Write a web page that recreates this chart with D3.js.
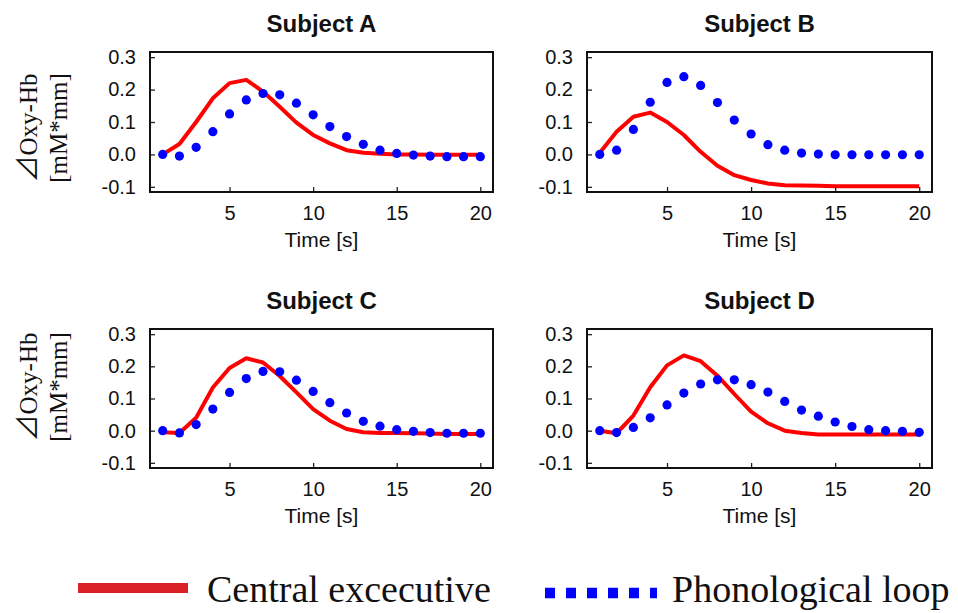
<!DOCTYPE html>
<html>
<head>
<meta charset="utf-8">
<script src="https://cdn.jsdelivr.net/npm/d3@7"></script>
<style>
  body { margin: 0; background: #fff; }
  svg { display: block; }
</style>
</head>
<body>
<svg id="chart"></svg>
<script>
// time points (s)
var time = [1,2,3,4,5,6,7,8,9,10,11,12,13,14,15,16,17,18,19,20];

// central executive (red line) per subject
var ceA = [0.0,0.032,0.10,0.173,0.22,0.23,0.194,0.147,0.098,0.06,0.034,0.013,0.005,0.002,0.0,0.0,-0.001,-0.001,-0.001,-0.001];
var ceB = [0.005,0.07,0.116,0.129,0.10,0.06,0.008,-0.035,-0.064,-0.079,-0.09,-0.095,-0.096,-0.097,-0.098,-0.098,-0.098,-0.098,-0.098,-0.098];
var ceC = [-0.005,-0.007,0.04,0.134,0.195,0.225,0.212,0.17,0.119,0.067,0.031,0.005,-0.005,-0.007,-0.007,-0.008,-0.009,-0.01,-0.01,-0.01];
var ceD = [0.0,-0.008,0.047,0.135,0.203,0.234,0.216,0.171,0.114,0.059,0.023,0.0,-0.007,-0.012,-0.012,-0.012,-0.012,-0.012,-0.012,-0.012];

// phonological loop (blue dots) per subject
var plA = [0.0,-0.005,0.022,0.07,0.125,0.168,0.188,0.184,0.158,0.122,0.086,0.055,0.031,0.013,0.003,-0.002,-0.005,-0.007,-0.007,-0.007];
var plB = [0.0,0.013,0.077,0.161,0.222,0.24,0.213,0.16,0.106,0.063,0.03,0.013,0.004,0.001,-0.001,-0.001,-0.001,-0.001,-0.001,-0.001];
var plC = [0.0,-0.007,0.019,0.067,0.119,0.162,0.184,0.183,0.157,0.122,0.087,0.055,0.029,0.014,0.003,-0.002,-0.006,-0.008,-0.008,-0.008];
var plD = [0.0,-0.006,0.01,0.04,0.08,0.117,0.145,0.158,0.158,0.143,0.12,0.091,0.064,0.045,0.027,0.013,0.003,0.0,-0.002,-0.005];

var subjects = ["Subject A","Subject B","Subject C","Subject D"];
var xTicks = [5,10,15,20];
var yTicks = [-0.1,0.0,0.1,0.2,0.3];
var legendLabels = ["Central excecutive","Phonological loop"];

var W = 958, H = 613;
var svg = d3.select("#chart").attr("width", W).attr("height", H);

// panel boxes
var cols = [{l:150,r:493},{l:587,r:932}];
var rows = [{t:52,b:192,lab:128},{t:329,b:468,lab:387}];

var panels = [
  {name:subjects[0], ce:ceA, pl:plA, c:0, r:0},
  {name:subjects[1], ce:ceB, pl:plB, c:1, r:0},
  {name:subjects[2], ce:ceC, pl:plC, c:0, r:1},
  {name:subjects[3], ce:ceD, pl:plD, c:1, r:1}
];

var sans = "'Liberation Sans', Arial, sans-serif";
var serif = "'Liberation Serif', 'Times New Roman', serif";

panels.forEach(function(p){
  var col = cols[p.c], row = rows[p.r];
  var x = d3.scaleLinear().domain([0.24,20.76]).range([col.l,col.r]);
  var y = d3.scaleLinear().domain([-0.116,0.316]).range([row.b,row.t]);
  var g = svg.append("g");

  var pts = time.map(function(t,i){ return {t:t, ce:p.ce[i], pl:p.pl[i]}; });

  // red line
  var line = d3.line()
    .x(function(d){ return x(d.t); })
    .y(function(d){ return y(d.ce); });
  g.append("path")
    .datum(pts)
    .attr("fill","none")
    .attr("stroke","#ff0000")
    .attr("stroke-width",4)
    .attr("stroke-linejoin","round")
    .attr("d",line);

  // blue dots
  g.selectAll(".dot")
    .data(pts)
    .enter().append("circle")
      .attr("class","dot")
      .attr("cx",function(d){ return x(d.t); })
      .attr("cy",function(d){ return y(d.pl); })
      .attr("r",4.6)
      .attr("fill","#0000ff");

  // axes, ticks pointing inward
  var xa = g.append("g")
    .attr("transform","translate(0,"+row.b+")")
    .call(d3.axisBottom(x).tickValues(xTicks).tickSize(-5).tickPadding(14));
  var ya = g.append("g")
    .attr("transform","translate("+col.l+",0)")
    .call(d3.axisLeft(y).tickValues(yTicks).tickSize(-5).tickPadding(14)
      .tickFormat(function(d){ return d.toFixed(1); }));
  [xa,ya].forEach(function(a){
    a.select(".domain").remove();
    a.attr("font-size",20).attr("font-family",sans);
    a.selectAll("line").attr("stroke","#222").attr("stroke-width",1.3);
    a.selectAll("text").attr("fill","#111");
  });

  // frame
  g.append("rect")
    .attr("x",col.l).attr("y",row.t)
    .attr("width",col.r-col.l).attr("height",row.b-row.t)
    .attr("fill","none").attr("stroke","#111").attr("stroke-width",2);

  // title
  g.append("text")
    .attr("x",(col.l+col.r)/2).attr("y",row.t-20)
    .attr("text-anchor","middle")
    .attr("font-family",sans).attr("font-weight","bold").attr("font-size",24)
    .attr("fill","#111")
    .text(p.name);

  // x label
  g.append("text")
    .attr("x",(col.l+col.r)/2).attr("y",row.b+55)
    .attr("text-anchor","middle")
    .attr("font-family",sans).attr("font-size",21)
    .attr("fill","#111")
    .text("Time [s]");

  // y label only on left column
  if (p.c === 0) {
    var yl = g.append("text")
      .attr("transform","translate(37,"+row.lab+") rotate(-90)")
      .attr("text-anchor","middle")
      .attr("font-family",serif).attr("font-size",25)
      .attr("fill","#111");
    var l1 = yl.append("tspan").attr("x",0).attr("y",0);
    l1.append("tspan").attr("font-family","'Noto Sans CJK JP', 'Noto Sans CJK SC', sans-serif")
      .attr("font-size",27).text("\u22BF");
    l1.append("tspan").text("Oxy-Hb");
    yl.append("tspan").attr("x",0).attr("y",30).text("[mM*mm]");
  }
});

// legend
var lg = svg.append("g");
lg.append("line")
  .attr("x1",78).attr("x2",188).attr("y1",588).attr("y2",588)
  .attr("stroke","#dc2028").attr("stroke-width",10);
lg.append("text")
  .attr("x",207).attr("y",602)
  .attr("font-family",serif).attr("font-size",38).attr("fill","#111")
  .text(legendLabels[0]);
lg.append("line")
  .attr("x1",545).attr("x2",657).attr("y1",593).attr("y2",593)
  .attr("stroke","#0000ff").attr("stroke-width",10.5)
  .attr("stroke-dasharray","10,11");
lg.append("text")
  .attr("x",672).attr("y",602)
  .attr("font-family",serif).attr("font-size",38).attr("fill","#111")
  .text(legendLabels[1]);
</script>
</body>
</html>
